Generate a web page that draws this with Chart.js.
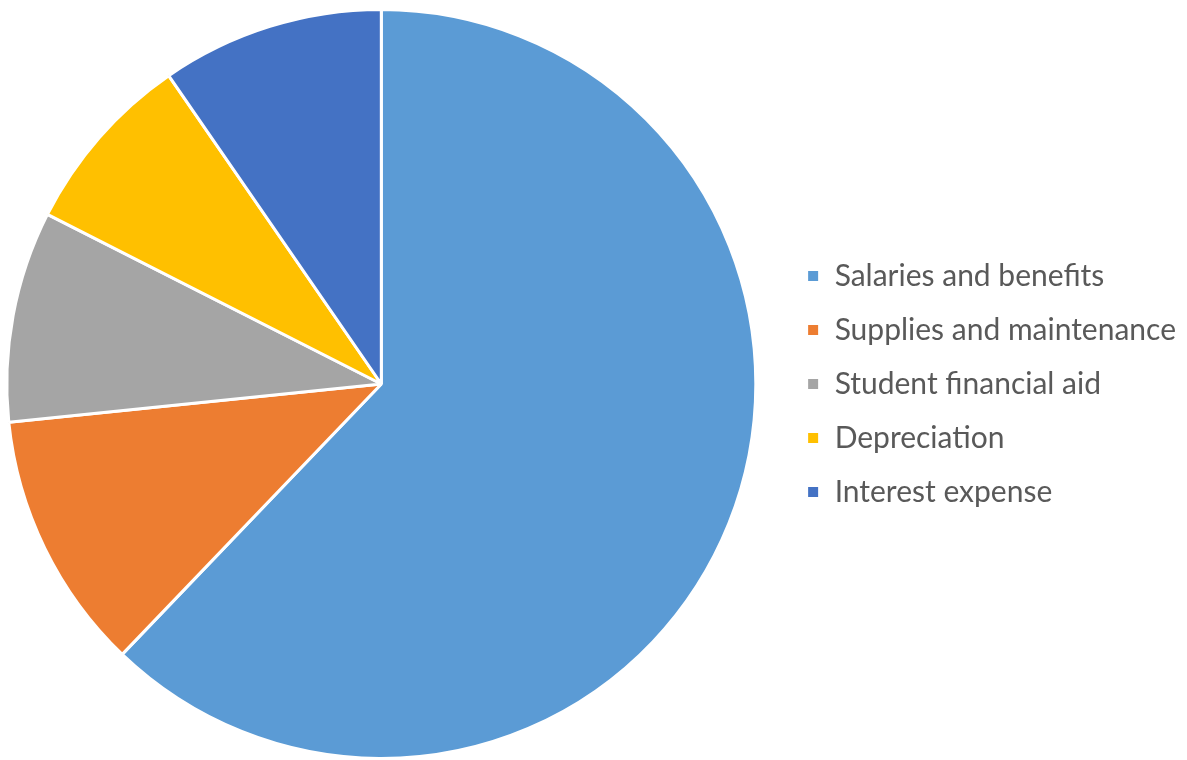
<!DOCTYPE html>
<html>
<head>
<meta charset="utf-8">
<script src="https://cdn.jsdelivr.net/npm/chart.js@4/dist/chart.umd.min.js"></script>
<style>
  html, body { margin: 0; padding: 0; background: #fff; overflow: hidden; }
  /* canvas is a bit wider than the window and pulled left so the
     pie sits where the original has it while the legend stays right */
  #wrap { width: 1206px; height: 760px; margin-left: -20px; }
</style>
</head>
<body>
<div id="wrap"><canvas id="myChart" width="1206" height="760"></canvas></div>
<script>
// expense categories, share of total (%)
var categories = ['Salaries and benefits', 'Supplies and maintenance', 'Student financial aid', 'Depreciation', 'Interest expense'];
var shares = [62.1, 11.2, 9.1, 7.9, 9.6];
var sliceColors = ['#5B9BD5', '#ED7D31', '#A5A5A5', '#FFC000', '#4472C4'];

var ctx = document.getElementById('myChart').getContext('2d');
var myChart = new Chart(ctx, {
    type: 'pie',
    data: {
        labels: categories,
        datasets: [{
            data: shares,
            backgroundColor: sliceColors,
            borderColor: '#ffffff',
            borderWidth: 3
        }]
    },
    options: {
        responsive: false,
        animation: false,
        layout: {
            padding: { left: 0, right: 0, top: 8, bottom: 0 }
        },
        plugins: {
            tooltip: { enabled: false },
            legend: {
                position: 'right',
                labels: {
                    boxWidth: 13,
                    boxHeight: 13,
                    padding: 24,
                    color: '#595959',
                    font: { family: 'Lato', size: 30 }
                }
            }
        }
    }
});
</script>
</body>
</html>
